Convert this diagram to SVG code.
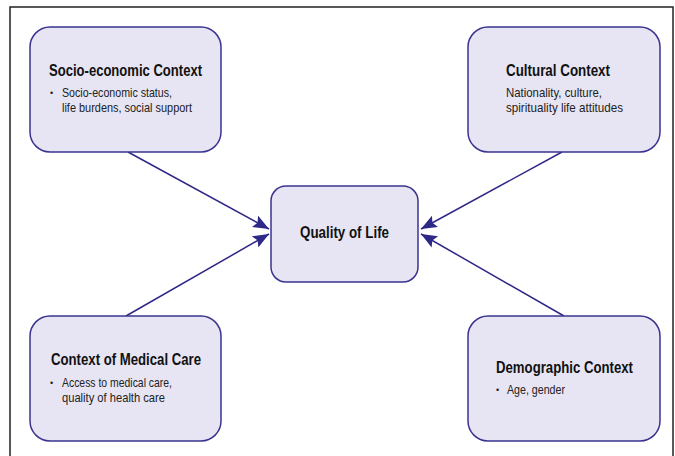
<svg xmlns="http://www.w3.org/2000/svg" width="675" height="456" viewBox="0 0 675 456">
<defs>
<style>
.box{fill:#e7e5f3;stroke:#3a3490;stroke-width:1.5}
.title{font-family:"Liberation Sans",Arial,sans-serif;font-weight:bold;font-size:16.5px;fill:#111}
.body{font-family:"Liberation Sans",Arial,sans-serif;font-size:13.5px;fill:#222}
.bul{font-family:"Liberation Sans",Arial,sans-serif;font-size:9px;fill:#222}
.conn{stroke:#2e2887;stroke-width:1.5;fill:none}
</style>
<marker id="ah" markerUnits="userSpaceOnUse" markerWidth="18" markerHeight="14" refX="16" refY="6.5" orient="auto">
<path d="M0,0 L16,6.5 L0,13 L3,6.5 z" fill="#2e2887"/>
</marker>
</defs>
<rect x="0" y="0" width="675" height="456" fill="#fff"/>
<rect x="10" y="7" width="663" height="470" fill="none" stroke="#222" stroke-width="1.5"/>
<g id="connectors">
<line class="conn" x1="128" y1="152" x2="269" y2="229" marker-end="url(#ah)"/>
<line class="conn" x1="126" y1="316" x2="269" y2="234" marker-end="url(#ah)"/>
<line class="conn" x1="562" y1="152" x2="421" y2="229" marker-end="url(#ah)"/>
<line class="conn" x1="564" y1="316" x2="421" y2="234" marker-end="url(#ah)"/>
</g>
<g id="socio">
<rect class="box" x="30" y="27" width="191" height="125" rx="20"/>
<text class="title" x="49" y="76" textLength="153" lengthAdjust="spacingAndGlyphs">Socio-economic Context</text>
<text class="bul" x="50" y="96">•</text>
<text class="body" x="62" y="97" textLength="110" lengthAdjust="spacingAndGlyphs">Socio-economic status,</text>
<text class="body" x="62" y="112" textLength="130" lengthAdjust="spacingAndGlyphs">life burdens, social support</text>
</g>
<g id="cultural">
<rect class="box" x="468" y="27" width="192" height="125" rx="20"/>
<text class="title" x="506" y="76" textLength="104" lengthAdjust="spacingAndGlyphs">Cultural Context</text>
<text class="body" x="506" y="97" textLength="96" lengthAdjust="spacingAndGlyphs">Nationality, culture,</text>
<text class="body" x="506" y="112" textLength="117" lengthAdjust="spacingAndGlyphs">spirituality life attitudes</text>
</g>
<g id="quality">
<rect class="box" x="271" y="186" width="147" height="96" rx="15"/>
<text class="title" x="300" y="238" style="font-size:17px" textLength="89" lengthAdjust="spacingAndGlyphs">Quality of Life</text>
</g>
<g id="medical">
<rect class="box" x="30" y="316" width="191" height="125" rx="20"/>
<text class="title" x="51" y="365" textLength="150" lengthAdjust="spacingAndGlyphs">Context of Medical Care</text>
<text class="bul" x="50" y="386">•</text>
<text class="body" x="62" y="387" textLength="110" lengthAdjust="spacingAndGlyphs">Access to medical care,</text>
<text class="body" x="62" y="402" textLength="103" lengthAdjust="spacingAndGlyphs">quality of health care</text>
</g>
<g id="demographic">
<rect class="box" x="468" y="316" width="192" height="125" rx="20"/>
<text class="title" x="496" y="373" textLength="137" lengthAdjust="spacingAndGlyphs">Demographic Context</text>
<text class="bul" x="496" y="393">•</text>
<text class="body" x="507" y="394" textLength="58" lengthAdjust="spacingAndGlyphs">Age, gender</text>
</g>
</svg>
